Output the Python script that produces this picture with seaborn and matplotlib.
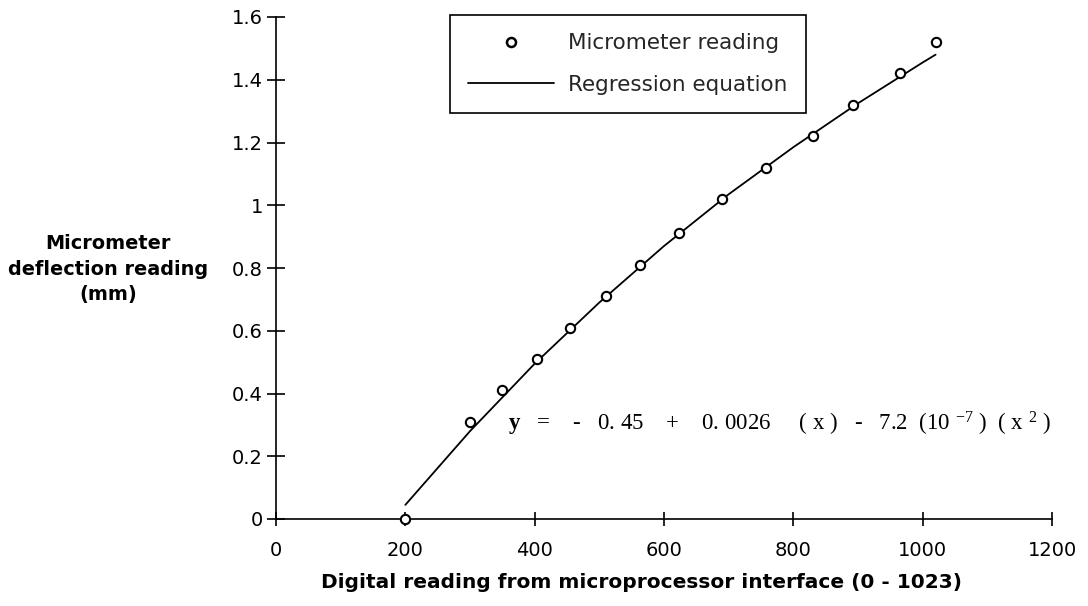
import matplotlib
matplotlib.use("Agg")
import matplotlib.pyplot as plt
from matplotlib.lines import Line2D
import seaborn as sns

# Micrometer readings against digital reading
reading_x = [200, 300, 350, 403, 455, 510, 563, 623, 690, 757, 830, 893, 965, 1020]
reading_y = [0.00, 0.31, 0.41, 0.51, 0.61, 0.71, 0.81, 0.91, 1.02, 1.12, 1.22, 1.32, 1.42, 1.52]

# Regression curve sampled along the digital reading
curve_x = [200, 300, 400, 500, 600, 700, 800, 900, 1000, 1020]
curve_y = [0.045, 0.28, 0.495, 0.69, 0.87, 1.035, 1.185, 1.325, 1.455, 1.48]

x_ticks = [0, 200, 400, 600, 800, 1000, 1200]
x_tick_labels = ["0", "200", "400", "600", "800", "1000", "1200"]
y_ticks = [0, 0.2, 0.4, 0.6, 0.8, 1.0, 1.2, 1.4, 1.6]
y_tick_labels = ["0", "0.2", "0.4", "0.6", "0.8", "1", "1.2", "1.4", "1.6"]

legend_labels = ["Micrometer reading", "Regression equation"]
x_title = "Digital reading from microprocessor interface (0 - 1023)"
y_title = "Micrometer\ndeflection reading\n(mm)"
equation = (r"$\mathbf{y}$   =    -   0. 45    +    0. 0026     ( x )   -   7.2  "
            r"(10 $^{-7}$ )  ( x $^{2}$ )")

sns.set_theme(style="white")
plt.rcParams["font.family"] = ["DejaVu Sans"]
plt.rcParams["mathtext.fontset"] = "custom"
plt.rcParams["mathtext.rm"] = "Liberation Serif"
plt.rcParams["mathtext.it"] = "Liberation Serif"
plt.rcParams["mathtext.bf"] = "Liberation Serif:bold"

fig = plt.figure(figsize=(10.88, 6.06), dpi=100)
ax = fig.add_axes([276 / 1088, 87 / 606, 776 / 1088, 502 / 606])

sns.lineplot(x=curve_x, y=curve_y, ax=ax, color="black", linewidth=1.3,
             sort=False, estimator=None)
sns.scatterplot(x=reading_x, y=reading_y, ax=ax, marker="o", s=45,
                facecolor="white", edgecolor="black", linewidth=1.5,
                zorder=4, clip_on=False)

ax.set_xlim(0, 1200)
ax.set_ylim(0, 1.6)
ax.set_xticks(x_ticks)
ax.set_xticklabels(x_tick_labels)
ax.set_yticks(y_ticks)
ax.set_yticklabels(y_tick_labels)

for side in ["top", "right"]:
    ax.spines[side].set_visible(False)
for side in ["left", "bottom"]:
    ax.spines[side].set_color("black")
    ax.spines[side].set_linewidth(1.2)

ax.tick_params(axis="y", direction="inout", length=13, width=1.2,
               color="black", pad=3, labelsize=14, labelcolor="black", left=True)
ax.tick_params(axis="x", direction="inout", length=10, width=1.2,
               color="black", pad=11, labelsize=14, labelcolor="black", bottom=True)

ax.set_xlabel(x_title, fontsize=14.5, fontweight="bold", color="black", va="center")
ax.xaxis.set_label_coords(0.4716, -0.1255)
ax.set_ylabel(y_title, fontsize=13.9, fontweight="bold", color="black",
              rotation=0, ha="center", va="center", multialignment="center",
              linespacing=1.45)
ax.yaxis.set_label_coords(-0.2165, 0.498)

ax.text(359, 0.303, equation, fontsize=16.5, color="black",
        family="Liberation Serif", ha="left", va="center")

handles = [
    Line2D([], [], linestyle="none", marker="o", markersize=6.5,
           markerfacecolor="white", markeredgecolor="black", markeredgewidth=1.8),
    Line2D([], [], color="black", linewidth=1.3),
]
leg = ax.legend(handles, legend_labels, loc="upper left",
                bbox_to_anchor=(0.224, 1.004), borderaxespad=0,
                fontsize=15.5, frameon=True, fancybox=False, shadow=False,
                handlelength=4.0, handletextpad=0.65, labelspacing=1.0,
                borderpad=0.85)
leg.get_frame().set_edgecolor("black")
leg.get_frame().set_linewidth(1.2)
leg.get_frame().set_facecolor("white")
leg.get_frame().set_alpha(1)

fig.savefig("out.png", dpi=100, facecolor="white")
